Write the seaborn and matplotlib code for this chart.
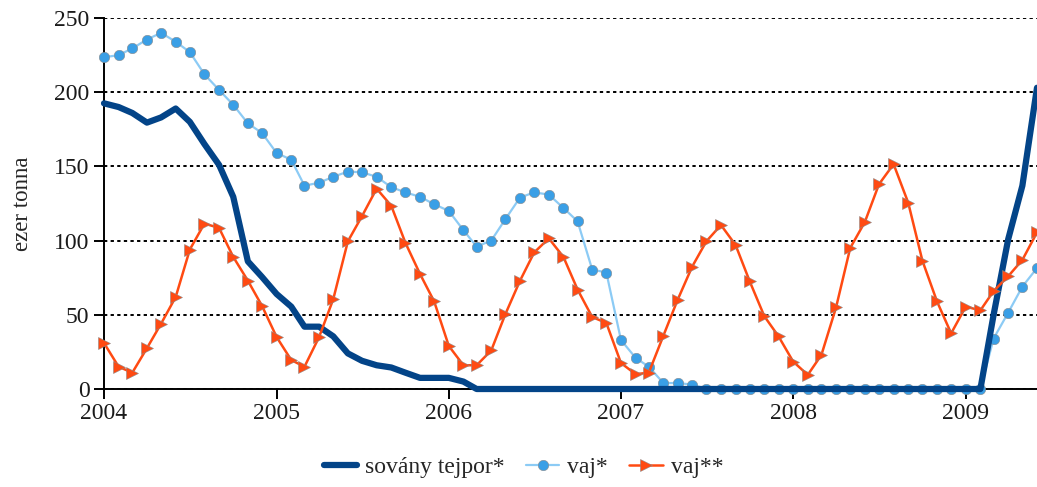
import numpy as np
import pandas as pd
import seaborn as sns
import matplotlib.pyplot as plt
import matplotlib.dates as mdates


months = pd.date_range("2004-01-01", periods=66, freq="MS")

# sovány tejpor* (ezer tonna)
tejpor = [192.5, 190, 186, 179.5, 183, 189, 180, 165, 151, 129.5,
          86, 75.5, 64, 55.5, 42, 42, 35.5, 24, 19, 16,
          14.5, 11, 7.5, 7.5, 7.5, 5] + [0] * 36 + [50, 101, 137, 203]

# vaj*
vaj1 = [223.5, 225, 229.5, 235.5, 240, 234, 227, 212, 201.5, 191.5,
        179, 172.5, 159, 154.5, 137, 139, 143, 146.5, 146, 143,
        136, 132.5, 129.5, 124.5, 120, 107, 96, 100, 114.5, 129,
        132.5, 131, 122, 113, 80.5, 78.5, 33, 21, 15,
        4, 4, 3] + [0] * 20 + [34, 51.5, 69, 81.5]

# vaj**
vaj2 = [31, 15, 11, 27.5, 44, 62, 94, 111.5, 108.5, 89,
        73, 56, 35, 19.5, 15, 35, 60.5, 99.5, 116.5, 135,
        123.5, 98.5, 77.5, 59, 29, 16, 16, 26, 50.5, 73,
        92, 101.5, 89, 67, 48.5, 44.5, 17.5, 10, 11, 36,
        60, 82.5, 99.5, 110.5, 97, 72.5, 49, 35.5, 18.5, 9.5,
        23, 55, 95, 112.5, 138, 151.5, 125.5, 86.5, 59, 37.5,
        55.5, 53, 66, 76, 87, 105.5]

labels = ["sovány tejpor*", "vaj*", "vaj**"]
yticks = [0, 50, 100, 150, 200, 250]

sns.set_theme(style="white")
plt.rcParams["font.family"] = ["Liberation Serif", "DejaVu Serif"]
plt.rcParams["font.size"] = 17

fig = plt.figure(figsize=(10.37, 4.87), dpi=100)
ax = fig.add_axes([104 / 1037, 98 / 487, 933 / 1037, 371 / 487])

sns.lineplot(x=months, y=vaj1, ax=ax, color="#8ccbf5", lw=1.6,
             marker="o", markersize=7.5, markerfacecolor="#3a9fe6",
             markeredgecolor="#8a8a8a", markeredgewidth=0.4,
             label=labels[1], clip_on=False, zorder=3)
sns.lineplot(x=months, y=tejpor, ax=ax, color="#034488", lw=4.5,
             label=labels[0], clip_on=False, zorder=4)
sns.lineplot(x=months, y=vaj2, ax=ax, color="#ff4a12", lw=1.8,
             marker=">", markersize=9, markerfacecolor="#ff4a12",
             markeredgecolor="#8a8a8a", markeredgewidth=0.4,
             label=labels[2], clip_on=False, zorder=5)

ax.set_xlim(months[0], months[-1])
ax.set_ylim(0, 250)
ax.set_yticks(yticks)
ax.xaxis.set_major_locator(mdates.YearLocator())
ax.xaxis.set_major_formatter(mdates.DateFormatter("%Y"))
ax.set_xlabel("")
ax.set_ylabel("ezer tonna", fontsize=16.5, labelpad=15)

ax.grid(axis="y", color="black", linestyle=(0, (1.7, 1.7)), lw=1.4)
ax.set_axisbelow(True)
for side in ["top", "right"]:
    ax.spines[side].set_visible(False)
for side in ["left", "bottom"]:
    ax.spines[side].set_color("black")
    ax.spines[side].set_linewidth(1.4)
ax.tick_params(axis="both", direction="out", length=7, width=1.4,
               color="black", labelsize=17, labelcolor="#1a1a1a",
               left=True, bottom=True)
ax.tick_params(axis="x", pad=3)

handles, labs = ax.get_legend_handles_labels()
order = [labs.index(l) for l in labels]
ax.get_legend().remove()
fig.legend([handles[i] for i in order], labels, loc="lower center",
           bbox_to_anchor=(0.505, -0.025), ncol=3, frameon=False, fontsize=17,
           handlelength=1.4, columnspacing=0.9, handletextpad=0.35)

fig.savefig("out.png", dpi=100)
